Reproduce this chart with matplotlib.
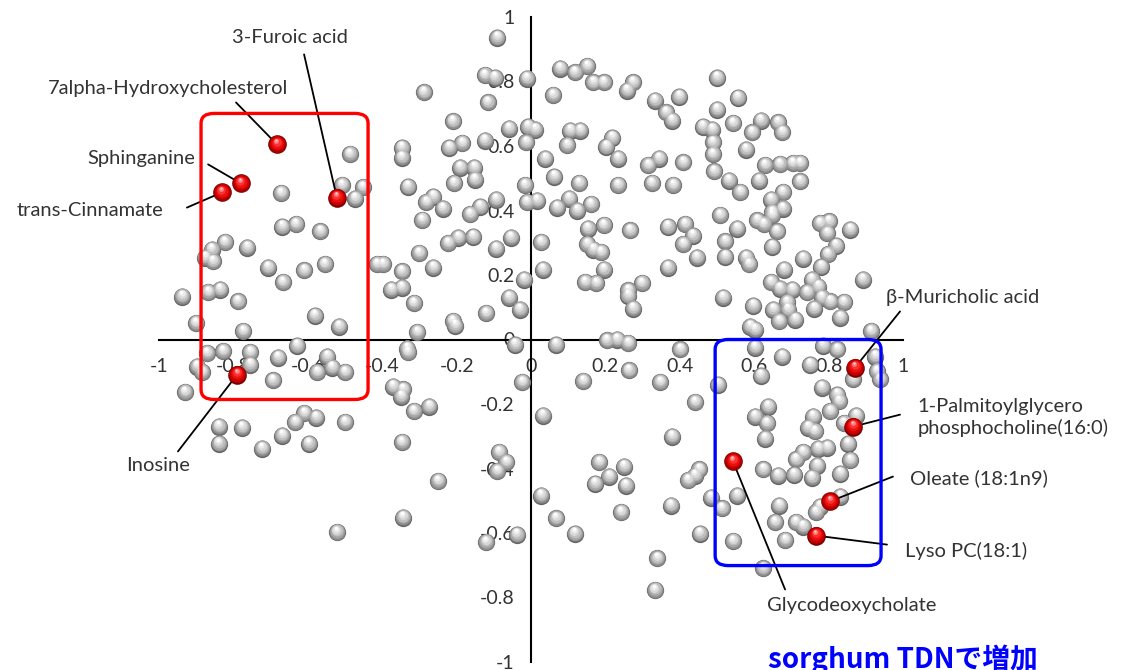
import numpy as np
import matplotlib
matplotlib.use('Agg')
from matplotlib import pyplot as plt
from matplotlib import transforms
from matplotlib.patches import FancyBboxPatch

# gray metabolites (loading plot)
gx = [-0.487, -0.672, -0.508, -0.452, -0.473, -0.347, -0.347, -0.331,
      -0.091, -0.124, -0.097, -0.011, -0.288, -0.116, 0.078, 0.118, 0.151, 0.167, 0.196, 0.059,
      0.274, 0.258, 0.333, -0.210, -0.059, -0.008, 0.011, -0.013, -0.124, -0.220, -0.185, 0.105,
      0.132, 0.097, 0.218, 0.202, 0.234, 0.038, 0.062, 0.129, 0.234, 0.315, 0.325, -0.191,
      -0.153, -0.151, -0.207, -0.016, -0.263, -0.282, -0.237, -0.137, -0.094, -0.011, 0.016, 0.070,
      0.102, 0.124, 0.161, -0.164, -0.293,
      -0.223, -0.196, -0.156, -0.054, -0.094, -0.301, -0.263, -0.347, -0.347, 0.027, 0.032, -0.019,
      -0.059, -0.030, -0.121, -0.210, -0.204, -0.315, -0.306, -0.333, -0.331, -0.043, 0.067, -0.024,
      0.140, 0.204, 0.231, 0.261, 0.263, 0.347, 0.153, 0.196, 0.266, 0.151, 0.167, 0.188,
      0.196, 0.145, 0.175, 0.261, 0.261, 0.298, 0.274, -0.344,
      -0.669, -0.632, -0.567, -0.823, -0.858, -0.876, -0.855, -0.763, -0.707, -0.610, -0.554, -0.667,
      -0.836, -0.868, -0.938, -0.788, -0.901, -0.774, -0.581, -0.516, -0.629, -0.871, -0.828, -0.755,
      -0.755, -0.680, -0.548, -0.535, -0.575, -0.500, -0.898, -0.884, -0.694, -0.930, -0.414, -0.398,
      -0.376, -0.371, -0.349,
      -0.839, -0.777, -0.839, -0.723, -0.669, -0.634, -0.610, -0.578, -0.597, -0.500, -0.347, -0.344,
      -0.522,
      -0.315, -0.274, -0.250, -0.086, -0.067, -0.091, -0.121, -0.038, 0.032, 0.027, 0.067, 0.118,
      0.183, 0.172, 0.210, 0.250, 0.255, 0.242, 0.339, 0.333,
      0.508, 0.368, 0.414, 0.435, 0.409, 0.446, 0.368, 0.522, 0.554, 0.522, 0.578, 0.586,
      0.608, 0.626, 0.648, 0.661, 0.648, 0.680, 0.731, 0.777, 0.801, 0.796, 0.820, 0.798,
      0.780, 0.858, 0.892, 0.755, 0.772, 0.645, 0.669, 0.702, 0.742, 0.688, 0.782, 0.804,
      0.841, 0.761, 0.831, 0.651, 0.667, 0.710, 0.691, 0.516, 0.597, 0.589, 0.602, 0.602,
      0.401, 0.675, 0.750, 0.785, 0.823, 0.914, 0.925, 0.930, 0.938, 0.866, 0.618, 0.782,
      0.823, 0.503, 0.441, 0.637,
      0.500, 0.398, 0.556, 0.363, 0.379, 0.500, 0.462, 0.487, 0.489, 0.489, 0.492, 0.543,
      0.594, 0.618, 0.664, 0.675, 0.578, 0.344, 0.409, 0.382, 0.532, 0.562, 0.629, 0.669,
      0.704, 0.723, 0.613, 0.723, 0.677, 0.645, 0.677, 0.648,
      0.379, 0.602, 0.634, 0.629, 0.758, 0.804, 0.828, 0.745, 0.763, 0.874, 0.841, 0.852,
      0.858, 0.831, 0.731, 0.772, 0.796, 0.712, 0.769, 0.624, 0.664, 0.707, 0.755, 0.452,
      0.422, 0.376, 0.484, 0.513, 0.554, 0.667, 0.656, 0.712, 0.731, 0.831, 0.777, 0.766,
      0.543, 0.683, 0.454, 0.624, 0.441]
gy = [0.574, 0.453, 0.478, 0.472, 0.437, 0.595, 0.564, 0.474,
      0.936, 0.819, 0.812, 0.809, 0.766, 0.735, 0.840, 0.828, 0.847, 0.797, 0.797, 0.757,
      0.797, 0.772, 0.741, 0.676, 0.654, 0.660, 0.651, 0.611, 0.617, 0.595, 0.608, 0.648,
      0.648, 0.602, 0.626, 0.598, 0.561, 0.561, 0.505, 0.484, 0.478, 0.540, 0.484, 0.533,
      0.533, 0.496, 0.484, 0.478, 0.443, 0.425, 0.406, 0.412, 0.434, 0.425, 0.431, 0.409,
      0.437, 0.400, 0.419, 0.388, 0.370,
      0.298, 0.316, 0.319, 0.316, 0.282, 0.267, 0.223, 0.211, 0.161, 0.301, 0.217, 0.186,
      0.130, 0.093, 0.081, 0.056, 0.043, 0.112, 0.022, -0.028, -0.040, -0.016, -0.016, -0.133,
      -0.130, -0.003, 0.000, -0.012, -0.096, -0.133, 0.344, 0.354, 0.338, 0.295, 0.279, 0.270,
      0.217, 0.177, 0.174, 0.152, 0.136, 0.174, 0.096, -0.155,
      0.350, 0.357, 0.335, 0.301, 0.279, 0.254, 0.242, 0.285, 0.223, 0.214, 0.233, 0.177,
      0.155, 0.146, 0.133, 0.118, 0.050, 0.025, 0.074, 0.040, -0.019, -0.043, -0.037, -0.040,
      -0.078, -0.056, -0.053, -0.087, -0.102, -0.102, -0.084, -0.102, -0.127, -0.164, 0.233, 0.233,
      0.155, -0.146, -0.177,
      -0.270, -0.273, -0.323, -0.338, -0.298, -0.257, -0.229, -0.242, -0.323, -0.257, -0.319, -0.552,
      -0.598,
      -0.223, -0.208, -0.440, -0.350, -0.381, -0.409, -0.629, -0.605, -0.236, -0.484, -0.555, -0.602,
      -0.381, -0.447, -0.425, -0.394, -0.453, -0.536, -0.679, -0.778,
      0.385, 0.350, 0.357, 0.322, 0.295, 0.254, 0.223, 0.304, 0.344, 0.257, 0.254, 0.233,
      0.369, 0.357, 0.385, 0.335, 0.288, 0.217, 0.251, 0.360, 0.366, 0.329, 0.291, 0.264,
      0.226, 0.341, 0.186, 0.186, 0.164, 0.177, 0.158, 0.155, 0.146, 0.115, 0.130, 0.118,
      0.115, 0.096, 0.068, 0.093, 0.056, 0.062, 0.093, 0.130, 0.105, 0.040, 0.031, -0.025,
      -0.031, -0.053, -0.078, -0.019, -0.031, 0.025, -0.053, -0.099, -0.124, -0.124, -0.112, -0.149,
      -0.171, -0.140, -0.195, -0.208,
      0.812, 0.753, 0.750, 0.704, 0.679, 0.713, 0.660, 0.651, 0.611, 0.574, 0.521, 0.670,
      0.642, 0.679, 0.673, 0.642, 0.589, 0.561, 0.549, 0.478, 0.493, 0.456, 0.540, 0.543,
      0.546, 0.546, 0.493, 0.490, 0.456, 0.434, 0.406, 0.394,
      -0.301, -0.239, -0.260, -0.307, -0.239, -0.223, -0.192, -0.273, -0.285, -0.236, -0.260, -0.323,
      -0.375, -0.416, -0.350, -0.338, -0.335, -0.372, -0.391, -0.403, -0.422, -0.419, -0.428, -0.403,
      -0.437, -0.515, -0.490, -0.524, -0.484, -0.515, -0.567, -0.567, -0.580, -0.487, -0.518, -0.536,
      -0.626, -0.623, -0.602, -0.710, -0.422]

# highlighted metabolites
red_names = ['3-Furoic acid', '7alpha-Hydroxycholesterol', 'Sphinganine', 'trans-Cinnamate',
             'Inosine', '\u03b2-Muricholic acid', '1-Palmitoylglycero\nphosphocholine(16:0)',
             'Oleate (18:1n9)', 'Lyso PC(18:1)', 'Glycodeoxycholate']
rx = [-0.522, -0.683, -0.780, -0.831, -0.790, 0.871, 0.866, 0.804, 0.766, 0.543]
ry = [0.440, 0.605, 0.484, 0.456, -0.109, -0.087, -0.270, -0.502, -0.608, -0.378]

ticks = [-1, -0.8, -0.6, -0.4, -0.2, 0, 0.2, 0.4, 0.6, 0.8, 1]
tick_labels = ['-1', '-0.8', '-0.6', '-0.4', '-0.2', '0', '0.2', '0.4', '0.6', '0.8', '1']

plt.rcParams['font.family'] = ['Lato', 'DejaVu Sans']

fig = plt.figure(figsize=(11.3, 6.7), dpi=100)
ax = fig.add_axes([159/1130, 8/670, 744/1130, 645/670])
ax.set_xlim(-1, 1)
ax.set_ylim(-1, 1)

for s in ['top', 'right']:
    ax.spines[s].set_visible(False)
ax.spines['bottom'].set_position('zero')
ax.spines['left'].set_position('zero')
ax.spines['bottom'].set_linewidth(1.5)
ax.spines['left'].set_linewidth(1.5)
ax.set_xticks(ticks)
ax.set_xticklabels(tick_labels)
ax.set_yticks(ticks)
ax.set_yticklabels(tick_labels)
ax.tick_params(axis='x', length=0, pad=13, labelsize=14, labelcolor='#333333')
ax.tick_params(axis='y', length=0, pad=12, labelsize=14, labelcolor='#333333')


def balls(x, y, size, layers, z):
    # fake 3D sphere: stacked circles, lighter and shifted upward
    for frac, col, dx, dy in layers:
        tr = transforms.offset_copy(ax.transData, fig=fig, x=dx, y=dy, units='points')
        ax.scatter(x, y, s=size*frac**2, c=col, linewidths=0, transform=tr, zorder=z)


gray_layers = [(1.00, '#666666', 0, 0), (0.93, '#8a8a8a', 0, 0.3), (0.82, '#a6a6a6', -0.1, 0.8),
               (0.68, '#c0c0c0', -0.2, 1.4), (0.52, '#d8d8d8', -0.3, 2.0),
               (0.36, '#ececec', -0.4, 2.5), (0.2, '#ffffff', -0.5, 3.0)]
red_layers = [(1.00, '#7a0000', 0, 0), (0.92, '#a80000', 0, 0.3), (0.80, '#cc0000', -0.1, 0.7),
              (0.64, '#e81010', -0.2, 1.2), (0.46, '#ff3030', -0.3, 1.8),
              (0.26, '#ff8080', -0.4, 2.5), (0.12, '#ffd0d0', -0.5, 3.0)]

balls(gx, gy, 155, gray_layers, 3)

# leader lines and labels
label_pos = [(-0.648, 0.936, 'center'), (-0.976, 0.778, 'center'), (-1.048, 0.561, 'center'),
             (-1.185, 0.400, 'center'), (-1.003, -0.391, 'center'), (1.161, 0.130, 'center'),
             (1.038, -0.242, 'left'), (1.019, -0.431, 'left'), (1.005, -0.657, 'left'),
             (0.863, -0.825, 'center')]
line_start = [(-0.610, 0.884), (-0.793, 0.735), (-0.868, 0.543), (-0.925, 0.409), (-0.949, -0.347),
              (0.992, 0.087), (0.992, -0.233), (0.973, -0.425), (0.957, -0.636), (0.683, -0.775)]
for i, name in enumerate(red_names):
    ax.annotate('', xy=(rx[i], ry[i]), xytext=line_start[i], annotation_clip=False,
                arrowprops=dict(arrowstyle='-', color='black', lw=1.3, shrinkA=0, shrinkB=0), zorder=5)
    lx, ly, ha = label_pos[i]
    ax.text(lx, ly, name, ha=ha, va='center', fontsize=14.5, color='#333333',
            linespacing=1.25, clip_on=False, zorder=7)

balls(rx, ry, 180, red_layers, 6)

# highlight boxes
ax.add_patch(FancyBboxPatch((-0.887, -0.186), 0.449, 0.887,
                            boxstyle='round,pad=0,rounding_size=0.035', mutation_aspect=0.87,
                            fill=False, ec='#ff0000', lw=2.4, zorder=8))
ax.add_patch(FancyBboxPatch((0.495, -0.701), 0.446, 0.701,
                            boxstyle='round,pad=0,rounding_size=0.035', mutation_aspect=0.87,
                            fill=False, ec='#0000ff', lw=2.4, zorder=8))

fig.text(768/1130, 0.003, 'sorghum TDNで増加', color='#0000ff', fontsize=20, fontweight='bold',
         ha='left', va='baseline', family=['Noto Sans CJK JP', 'DejaVu Sans'])

fig.savefig('out.png', dpi=100, facecolor='white')
